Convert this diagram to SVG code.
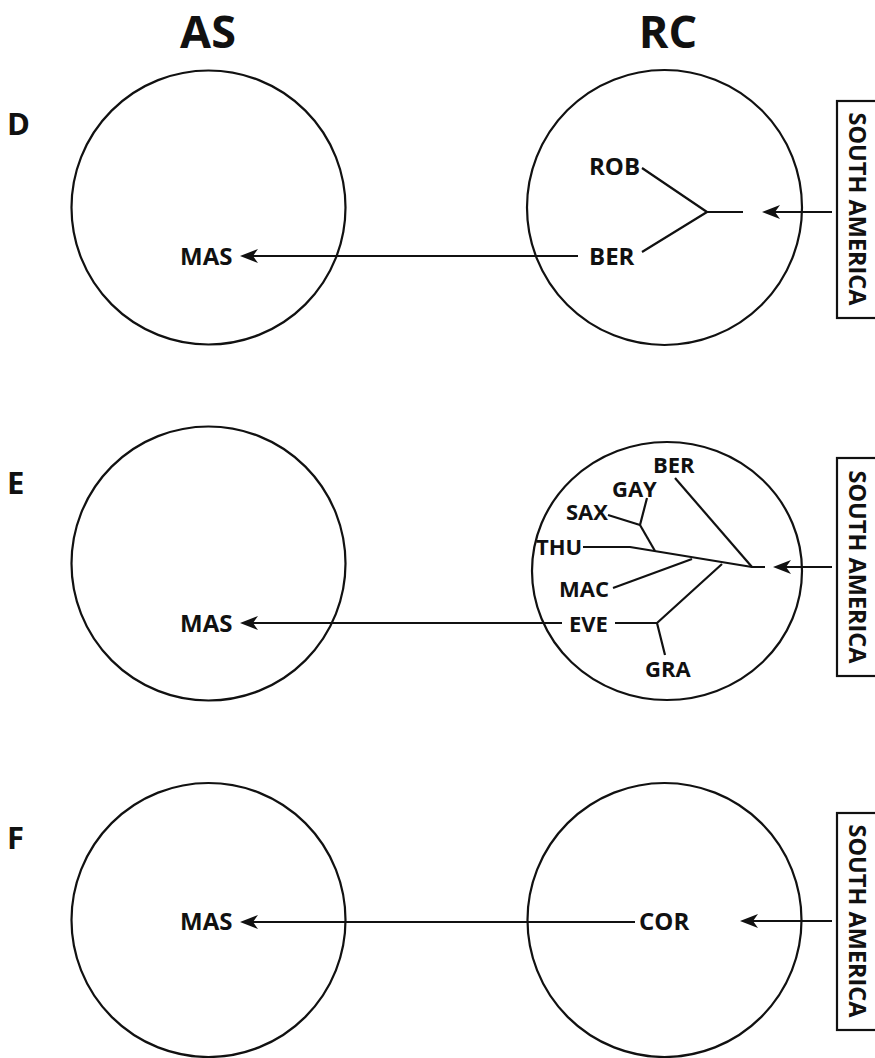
<svg xmlns="http://www.w3.org/2000/svg" width="875" height="1058" viewBox="0 0 875 1058">
  <defs>
    <style>
      text { font-family: "Open Sans", "Liberation Sans", sans-serif; font-weight: bold; fill: #111; }
      .head { font-size: 45px; text-anchor: middle; }
      .panel { font-size: 31px; }
      .taxon { font-size: 24px; }
      .small { font-size: 22px; }
      .sa { font-size: 23.5px; text-anchor: middle; }
      .area { fill: none; stroke: #111; stroke-width: 2.2; }
      .box { fill: #fff; stroke: #111; stroke-width: 2.2; }
      .line { fill: none; stroke: #111; stroke-width: 2.2; stroke-linejoin: round; }
      .arrow { fill: none; stroke: #111; stroke-width: 2.2; marker-end: url(#head); }
    </style>
    <marker id="head" markerUnits="userSpaceOnUse" viewBox="0 0 18 14" markerWidth="18" markerHeight="14" refX="12" refY="7" orient="auto">
      <path d="M18,7 L0,0 L5,7 L0,14 Z" fill="#111"/>
    </marker>
  </defs>

  <!-- column headings -->
  <text class="head" x="208" y="48">AS</text>
  <text class="head" x="668" y="48">RC</text>

  <!-- panel letters -->
  <text class="panel" x="7" y="135">D</text>
  <text class="panel" x="7" y="494">E</text>
  <text class="panel" x="7" y="849">F</text>

  <!-- ===== Panel D ===== -->
  <g id="d-as">
    <circle class="area" cx="208.5" cy="207.5" r="137"/>
    <text class="taxon" x="180" y="265">MAS</text>
  </g>
  <g id="d-rc">
    <circle class="area" cx="664.5" cy="207.5" r="137.5"/>
    <text class="taxon" x="589" y="175">ROB</text>
    <text class="taxon" x="589" y="265">BER</text>
  </g>
  <g id="d-sa">
    <rect class="box" x="837" y="101" width="60" height="217"/>
    <text class="sa" transform="translate(849,209) rotate(90)">SOUTH AMERICA</text>
  </g>

  <!-- ===== Panel E ===== -->
  <g id="e-as">
    <circle class="area" cx="208.5" cy="563.5" r="137"/>
    <text class="taxon" x="180" y="632">MAS</text>
  </g>
  <g id="e-rc">
    <ellipse class="area" cx="667" cy="571" rx="135" ry="129"/>
    <text class="small" x="653" y="473">BER</text>
    <text class="small" x="612" y="497">GAY</text>
    <text class="small" x="566" y="520">SAX</text>
    <text class="small" x="536" y="555">THU</text>
    <text class="small" x="559" y="597">MAC</text>
    <text class="small" x="569" y="632">EVE</text>
    <text class="small" x="645" y="677">GRA</text>
  </g>
  <g id="e-sa">
    <rect class="box" x="837" y="458" width="60" height="218"/>
    <text class="sa" transform="translate(849,567) rotate(90)">SOUTH AMERICA</text>
  </g>

  <!-- ===== Panel F ===== -->
  <g id="f-as">
    <circle class="area" cx="208.5" cy="920" r="137"/>
    <text class="taxon" x="180" y="930">MAS</text>
  </g>
  <g id="f-rc">
    <circle class="area" cx="664.5" cy="920" r="137"/>
    <text class="taxon" x="639" y="930">COR</text>
  </g>
  <g id="f-sa">
    <rect class="box" x="837" y="813" width="60" height="217"/>
    <text class="sa" transform="translate(849,921) rotate(90)">SOUTH AMERICA</text>
  </g>

  <!-- ===== connectors ===== -->
  <g id="connectors">
    <!-- D: tree and dispersal arrows -->
    <polyline class="line" points="642,168 707,212 642,252"/>
    <line class="line" x1="707" y1="212" x2="743" y2="212"/>
    <line class="arrow" x1="832" y1="212" x2="768" y2="212"/>
    <line class="arrow" x1="578" y1="256" x2="246" y2="256"/>

    <!-- E: tree and dispersal arrows -->
    <line class="line" x1="675" y1="478" x2="752" y2="567"/>
    <polyline class="line" points="583,547 630,547 752,567 765,567"/>
    <polyline class="line" points="608,515 640,525 647,498"/>
    <line class="line" x1="640" y1="525" x2="655" y2="551"/>
    <line class="line" x1="613" y1="588" x2="692" y2="559"/>
    <polyline class="line" points="722,564 657,623 665,655"/>
    <line class="line" x1="615" y1="623" x2="657" y2="623"/>
    <line class="arrow" x1="832" y1="567" x2="779" y2="567"/>
    <line class="arrow" x1="562" y1="623" x2="246" y2="623"/>

    <!-- F: dispersal arrows -->
    <line class="arrow" x1="832" y1="921" x2="746" y2="921"/>
    <line class="arrow" x1="635" y1="922" x2="246" y2="922"/>
  </g>
</svg>
